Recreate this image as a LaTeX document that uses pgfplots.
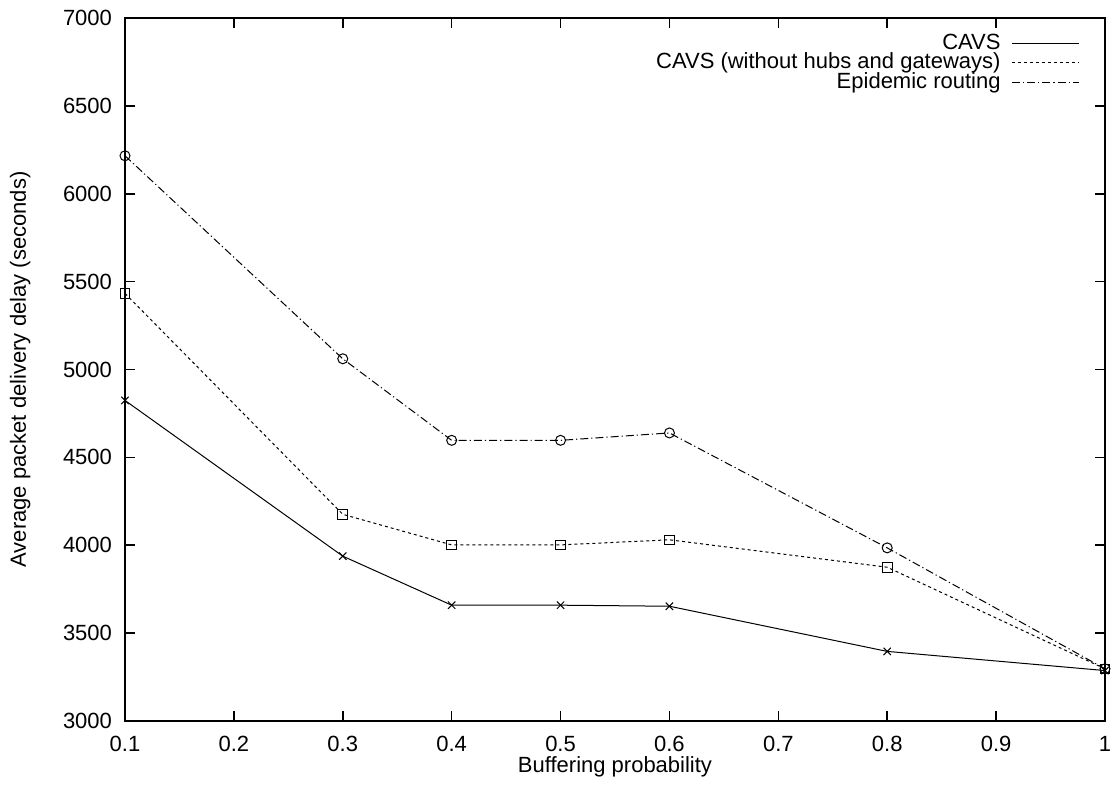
\documentclass[border=0pt]{standalone}
\usepackage{fontspec}
\setmainfont{Liberation Sans}
\usepackage{pgfplots}
\pgfplotsset{compat=1.18}
\begin{document}
\begin{tikzpicture}[font=\fontsize{11bp}{13bp}\selectfont]
\begin{axis}[
  at={(0bp,0bp)}, anchor=south west,
  scale only axis,
  width=490bp, height=351.5bp,
  xmin=0.1, xmax=1, ymin=3000, ymax=7000,
  xtick={0.1,0.2,...,1.0},
  ytick={3000,3500,...,7000},
  tick align=inside,
  major tick length=5bp,
  axis line style={line width=0.8bp},
  every tick/.style={line width=0.8bp, black},
  /pgf/number format/assume math mode=true,
  /pgf/number format/1000 sep={},
  xticklabel style={font=\fontsize{11bp}{13bp}\selectfont, yshift=-4bp},
  yticklabel style={font=\fontsize{11bp}{13bp}\selectfont, xshift=-3bp},
  xlabel={Buffering probability},
  ylabel={Average packet delivery delay (seconds)},
  label style={font=\fontsize{11bp}{13bp}\selectfont},
  xlabel style={at={(axis description cs:0.5,-0.065)}, anchor=center},
  ylabel style={at={(axis description cs:-0.107,0.5)}, anchor=center},
  legend plot pos=right,
  legend cell align=right,
  legend image code/.code={\path (0bp,0bp); \draw[#1,mark=none] (5.5bp,0bp) -- (39bp,0bp);},
  legend style={draw=none, fill=none, at={(1,1)}, anchor=north east,
    inner sep=0pt, xshift=-12.5bp, yshift=-7.5bp, row sep=0pt,
    nodes={inner sep=0pt, text height=7.9bp, text depth=1.85bp},
    font=\fontsize{11bp}{13bp}\selectfont},
  every axis plot/.append style={line width=0.5bp, black},
]
\addplot[mark=x, mark size=2.6bp, mark options={solid}] coordinates {
 (0.1,4824) (0.3,3938) (0.4,3659) (0.5,3659) (0.6,3653) (0.8,3396) (1.0,3287)};
\addlegendentry{CAVS}
\addplot[mark=square, mark size=2.4bp, mark options={solid}, dash pattern=on 1.5bp off 1.5bp] coordinates {
 (0.1,5433) (0.3,4176) (0.4,4002) (0.5,4002) (0.6,4031) (0.8,3875) (1.0,3297)};
\addlegendentry{CAVS (without hubs and gateways)}
\addplot[mark=o, mark size=2.5bp, mark options={solid}, dash pattern=on 4bp off 1.5bp on 0.6bp off 1.5bp] coordinates {
 (0.1,6216) (0.3,5061) (0.4,4597) (0.5,4597) (0.6,4639) (0.8,3985) (1.0,3297)};
\addlegendentry{Epidemic routing}
\end{axis}
\pgfresetboundingbox
\path[use as bounding box] (-62.5bp,-35.5bp) rectangle (495.5bp,360.5bp);
\end{tikzpicture}
\end{document}
